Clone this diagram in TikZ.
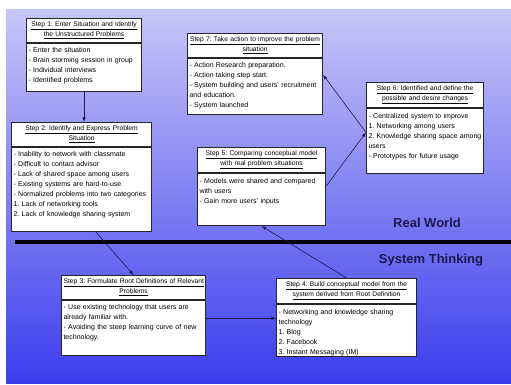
\documentclass[tikz,border=0pt]{standalone}
\usepackage{fontspec}
\setmainfont{Liberation Sans}
\usetikzlibrary{arrows.meta}
\usetikzlibrary{calc}

\definecolor{bgtop}{RGB}{198,198,248}
\definecolor{bgbot}{RGB}{60,60,238}
\definecolor{navy}{RGB}{26,26,78}

\begin{document}
\begin{tikzpicture}[x=1pt, y=-1pt,
    frame/.style={draw=black!85, line width=1.1pt, fill=white, anchor=north west, inner xsep=2pt},
    title/.style={frame, align=center, minimum height=23pt, font=\fontsize{6.7}{10}\selectfont\frenchspacing},
    body/.style={frame, align=left, inner ysep=2pt, text height=7.5pt, font=\fontsize{7}{10}\selectfont\frenchspacing},
    conn/.style={-latex, navy, semithick},
    world/.style={font=\fontsize{13}{15}\selectfont\bfseries, text=navy}
]
    \useasboundingbox (0,0) rectangle (511,385);
    \shade[top color=bgtop, bottom color=bgbot] (6,10) rectangle (511,383);

    % Real World / System Thinking split:
    \draw[line width=3.5pt, black] (15,242) -- (511,242);
    \draw (427,223) node[world] (real) {Real World};
    \draw (431,260) node[world] (sys) {System Thinking};

    \draw (26,18) node[title, text width=111pt] (s1t) {\underline{Step 1: Enter Situation and Identify}\\\underline{the Unstructured Problems}};
    \draw (s1t.south west) node[body, text width=111pt, text depth=36.5pt] (s1b) {- Enter the situation\\- Brain storming session in group\\- Individual interviews\\- Identified problems};

    \draw (11,122) node[title, text width=136pt] (s2t) {\underline{Step 2: Identify and Express Problem}\\\underline{Situation}};
    \draw (s2t.south west) node[body, text width=136pt, text depth=72.5pt] (s2b) {- Inability to network with classmate\\- Difficult to contact advisor\\- Lack of shared space among users\\- Existing systems are hard-to-use\\- Normalized problems into two categories\\1. Lack of networking tools\\2. Lack of knowledge sharing system};

    \draw (61,275) node[title, text width=140pt] (s3t) {\underline{Step 3: Formulate Root Definitions of Relevant}\\\underline{Problems}};
    \draw (s3t.south west) node[body, text width=140pt, text depth=43.5pt] (s3b) {- Use existing technology that users are\\already familiar with.\\- Avoiding the steep learning curve of new\\technology.};

    \draw (276,278) node[title, text width=136pt] (s4t) {\underline{Step 4: Build conceptual model from the}\\\underline{system derived from Root Definition}};
    \draw (s4t.south west) node[body, text width=136pt, text depth=40.5pt] (s4b) {- Networking and knowledge sharing\\technology\\1. Blog\\2. Facebook\\3. Instant Messaging (IM)};

    \draw (197,147) node[title, text width=124pt] (s5t) {\underline{Step 5: Comparing conceptual model}\\\underline{with real problem situations}};
    \draw (s5t.south west) node[body, text width=124pt, text depth=40.5pt] (s5b) {- Models were shared and compared\\with users\\- Gain more users' inputs};

    \draw (366,82) node[title, text width=113pt] (s6t) {\underline{Step 6: Identified and define the}\\\underline{possible and desire changes}};
    \draw (s6t.south west) node[body, text width=113pt, text depth=53.5pt] (s6b) {- Centralized system to improve\\1. Networking among users\\2. Knowledge sharing space among\\users\\- Prototypes for future usage};

    \draw (187,33) node[title, text width=131pt] (s7t) {\underline{Step 7: Take action to improve the problem}\\\underline{situation}};
    \draw (s7t.south west) node[body, text width=131pt, text depth=44.5pt] (s7b) {- Action Research preparation.\\- Action taking step start.\\- System building and users' recruitment\\and education.\\- System launched};

    % Step-to-Step arrows:
    \draw[conn] (s1b.south) -- (s1b.south |- s2t.north);
    \draw[conn] ($(s2b.south west)!.6!(s2b.south east)$) -- (s3t.north);
    \coordinate (s4in) at ($(s4b.north west)!.27!(s4b.south west)$);
    \draw[conn] (s3b.east |- s4in) -- (s4in);
    \draw[conn] (s4t.north) -- (s5b.south);
    \coordinate (s6in) at ($(s6b.north west)!.37!(s6b.south west)$);
    \draw[conn] ($(s5b.north east)!.25!(s5b.south east)$) -- (s6in);
    \draw[conn] (s6in) -- ($(s7b.north east)!.3!(s7b.south east)$);

\end{tikzpicture}
\end{document}
